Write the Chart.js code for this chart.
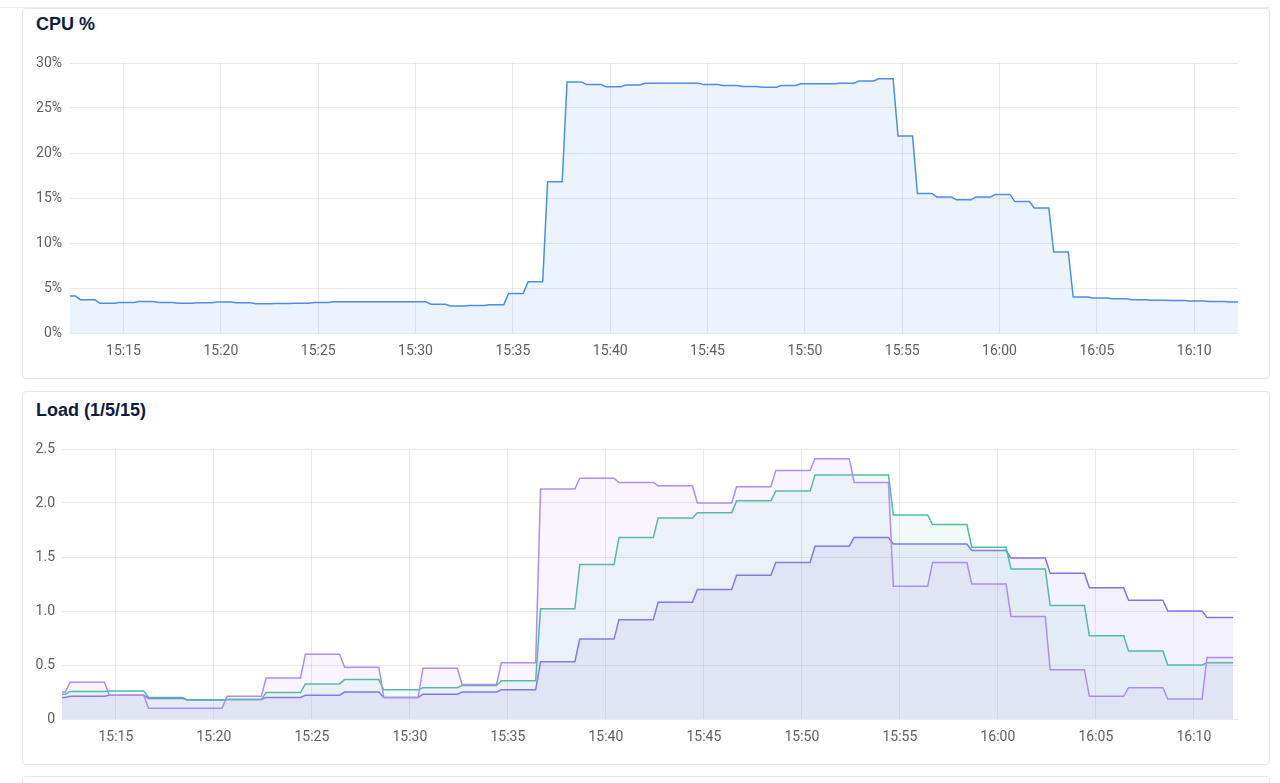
<!DOCTYPE html>
<html>
<head>
<meta charset="utf-8">
<script src="https://cdn.jsdelivr.net/npm/chart.js@4.4.1/dist/chart.umd.min.js"></script>
<style>
  html, body { margin: 0; padding: 0; background: #fff; width: 1280px; height: 783px; overflow: hidden; }
  .topline { position: absolute; left: 0; top: 7px; width: 1270px; height: 1px; background: #eceef1; }
  .card { position: absolute; left: 22px; width: 1246px; border: 1px solid #e3e6ea; border-radius: 4px; background: #fff; }
  .title { position: absolute; left: 13px; font: bold 18px "Liberation Sans", Arial, sans-serif; color: #0d1b45; white-space: nowrap; }
  canvas { position: absolute; }
</style>
</head>
<body>
<div class="topline"></div>
<div class="card" style="top:8px;height:369px;"><div class="title" style="top:5px;">CPU %</div></div>
<div class="card" style="top:391px;height:372px;"><div class="title" style="top:8px;">Load (1/5/15)</div></div>
<div class="card" style="top:776px;height:40px;"></div>
<canvas id="cpu-chart" width="1230" height="325" style="left:22px;top:46px;"></canvas>
<canvas id="load-chart" width="1230" height="325" style="left:22px;top:432px;"></canvas>
<script>
// x axis: one hour window, ticks every 5 minutes
const xStart = "15:12:15";
const xEnd = "16:12:15";
const timeTicks = ["15:15", "15:20", "15:25", "15:30", "15:35", "15:40", "15:45", "15:50", "15:55", "16:00", "16:05", "16:10"];

const cpuTickLabels = ["0%", "5%", "10%", "15%", "20%", "25%", "30%"];
const loadTickLabels = ["0", "0.5", "1.0", "1.5", "2.0", "2.5"];

// CPU % samples (value changes once a minute)
const cpuTimes = [
  "15:12:15", "15:12:47", "15:13:47", "15:14:47", "15:15:47", "15:16:47", "15:17:47", "15:18:47",
  "15:19:47", "15:20:47", "15:21:47", "15:22:47", "15:23:47", "15:24:47", "15:25:47", "15:26:47",
  "15:27:47", "15:28:47", "15:29:47", "15:30:47", "15:31:47", "15:32:47", "15:33:47", "15:34:47",
  "15:35:47", "15:36:47", "15:37:47", "15:38:47", "15:39:47", "15:40:47", "15:41:47", "15:42:47",
  "15:43:47", "15:44:47", "15:45:47", "15:46:47", "15:47:47", "15:48:47", "15:49:47", "15:50:47",
  "15:51:47", "15:52:47", "15:53:47", "15:54:47", "15:55:47", "15:56:47", "15:57:47", "15:58:47",
  "15:59:47", "16:00:47", "16:01:47", "16:02:47", "16:03:47", "16:04:47", "16:05:47", "16:06:47",
  "16:07:47", "16:08:47", "16:09:47", "16:10:47", "16:11:47", "16:12:15"
];
const cpuValues = [
  4.1, 3.7, 3.3, 3.4, 3.5, 3.4, 3.3, 3.35,
  3.45, 3.35, 3.25, 3.28, 3.3, 3.38, 3.46, 3.46,
  3.46, 3.46, 3.46, 3.2, 3.0, 3.05, 3.15, 4.4,
  5.7, 16.8, 27.9, 27.6, 27.35, 27.55, 27.75, 27.75,
  27.75, 27.6, 27.5, 27.4, 27.3, 27.5, 27.7, 27.7,
  27.75, 28.0, 28.25, 21.9, 15.5, 15.1, 14.8, 15.1,
  15.4, 14.6, 13.9, 9.0, 4.0, 3.9, 3.8, 3.7,
  3.65, 3.6, 3.55, 3.5, 3.45, 3.45
];

// load averages (value changes every two minutes)
const loadTimes = [
  "15:12:15", "15:12:40", "15:14:40", "15:16:40", "15:18:40", "15:20:40", "15:22:40", "15:24:40",
  "15:26:40", "15:28:40", "15:30:40", "15:32:40", "15:34:40", "15:36:40", "15:38:40", "15:40:40",
  "15:42:40", "15:44:40", "15:46:40", "15:48:40", "15:50:40", "15:52:40", "15:54:40", "15:56:40",
  "15:58:40", "16:00:40", "16:02:40", "16:04:40", "16:06:40", "16:08:40", "16:10:40", "16:12:00"
];
const load1 = [
  0.25, 0.34, 0.22, 0.10, 0.10, 0.21, 0.38, 0.60,
  0.48, 0.20, 0.47, 0.32, 0.52, 2.13, 2.23, 2.19,
  2.16, 2.00, 2.15, 2.30, 2.41, 2.19, 1.23, 1.45,
  1.25, 0.95, 0.455, 0.21, 0.29, 0.185, 0.57, 0.57
];
const load5 = [
  0.23, 0.255, 0.26, 0.20, 0.175, 0.18, 0.245, 0.325,
  0.365, 0.27, 0.29, 0.31, 0.355, 1.02, 1.43, 1.68,
  1.86, 1.91, 2.02, 2.11, 2.26, 2.26, 1.89, 1.80,
  1.59, 1.39, 1.05, 0.77, 0.63, 0.50, 0.52, 0.52
];
const load15 = [
  0.20, 0.21, 0.22, 0.19, 0.175, 0.18, 0.20, 0.22,
  0.25, 0.20, 0.23, 0.25, 0.27, 0.53, 0.74, 0.92,
  1.08, 1.20, 1.33, 1.45, 1.60, 1.68, 1.62, 1.62,
  1.56, 1.49, 1.35, 1.215, 1.10, 1.00, 0.94, 0.94
];

// minutes after 15:00
function toMin(s) {
  const [h, m, sec] = s.split(":").map(Number);
  return (h - 15) * 60 + m + (sec || 0) / 60;
}

// hold each sample until just before the next one (short ramp between samples)
function stepPoints(times, values, ramp) {
  const pts = [];
  for (let i = 0; i < times.length; i++) {
    pts.push({ x: toMin(times[i]), y: values[i] });
    if (i + 1 < times.length) {
      pts.push({ x: toMin(times[i + 1]) - ramp, y: values[i] });
    }
  }
  return pts;
}

const tickFont = { family: "Roboto", size: 14 };
const gridColor = "rgba(0,0,0,0.085)";

function makeOptions(yMax, yStep, yLabels, yWidth, yPad) {
  return {
    responsive: false,
    animation: false,
    devicePixelRatio: 1,
    layout: { padding: { top: 17, right: 14, left: 0, bottom: 0 } },
    plugins: { legend: { display: false }, tooltip: { enabled: false } },
    elements: { point: { radius: 0 }, line: { tension: 0, borderWidth: 1.5 } },
    scales: {
      x: {
        type: "linear",
        min: toMin(xStart),
        max: toMin(xEnd),
        afterBuildTicks: (axis) => {
          axis.ticks = timeTicks.map((t) => ({ value: toMin(t) }));
        },
        afterFit: (axis) => { axis.height = 38; },
        ticks: {
          autoSkip: false,
          maxRotation: 0,
          padding: 10,
          color: "#5e5e5e",
          font: tickFont,
          callback: (v, i) => timeTicks[i],
        },
        grid: { color: gridColor, drawTicks: false },
        border: { display: false },
      },
      y: {
        min: 0,
        max: yMax,
        afterFit: (axis) => { axis.width = yWidth; },
        ticks: {
          stepSize: yStep,
          padding: yPad,
          color: "#5e5e5e",
          font: tickFont,
          callback: (v, i) => yLabels[i],
        },
        grid: { color: gridColor, drawTicks: false },
        border: { display: false },
      },
    },
  };
}

new Chart(document.getElementById("cpu-chart").getContext("2d"), {
  type: "line",
  data: {
    datasets: [
      {
        label: "CPU %",
        data: stepPoints(cpuTimes, cpuValues, 0.25),
        borderColor: "#4a90e2",
        backgroundColor: "rgba(74,144,226,0.11)",
        fill: "origin",
      },
    ],
  },
  options: makeOptions(30, 5, cpuTickLabels, 48, 8),
});

new Chart(document.getElementById("load-chart").getContext("2d"), {
  type: "line",
  data: {
    datasets: [
      {
        label: "1 min",
        data: stepPoints(loadTimes, load1, 0.25),
        borderColor: "#b18cf0",
        backgroundColor: "rgba(185,130,238,0.09)",
        fill: "origin",
      },
      {
        label: "5 min",
        data: stepPoints(loadTimes, load5, 0.25),
        borderColor: "#4dbf9f",
        backgroundColor: "rgba(90,195,175,0.09)",
        fill: "origin",
      },
      {
        label: "15 min",
        data: stepPoints(loadTimes, load15, 0.25),
        borderColor: "#8274e6",
        backgroundColor: "rgba(130,118,240,0.1)",
        fill: "origin",
      },
    ],
  },
  options: makeOptions(2.5, 0.5, loadTickLabels, 40, 7),
});
</script>
</body>
</html>
